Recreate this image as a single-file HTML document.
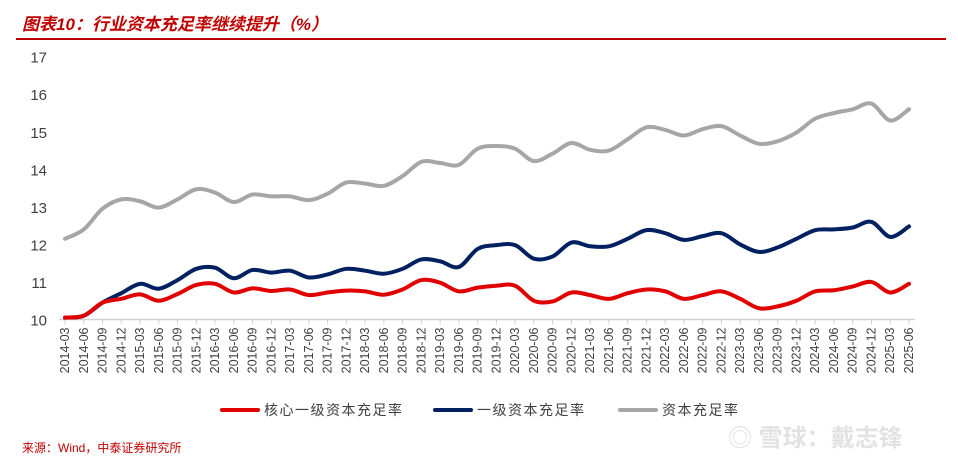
<!DOCTYPE html>
<html><head><meta charset="utf-8">
<style>
body{margin:0;background:#fff;width:958px;height:462px;overflow:hidden;font-family:"Liberation Sans","Noto Sans CJK SC",sans-serif;}
#title{position:absolute;left:22px;top:10px;font-size:17px;font-weight:bold;font-style:italic;color:#c00000;}
#rule{position:absolute;left:16px;top:38px;width:930px;height:2px;background:#c00000;}
#src{position:absolute;left:22px;top:439px;font-size:12px;color:#c00000;}
#wm{position:absolute;left:728px;top:418px;font-size:24px;color:#e2e2e2;font-weight:bold;}
</style></head><body>
<div id="title">图表10：行业资本充足率继续提升（%）</div>
<div id="rule"></div>
<svg id="chart" width="958" height="462" style="position:absolute;left:0;top:0"></svg>
<div id="src">来源：Wind，中泰证券研究所</div>
<div id="wm">◎ 雪球：戴志锋</div>
<script>
const categories=["2014-03","2014-06","2014-09","2014-12","2015-03","2015-06","2015-09","2015-12","2016-03","2016-06","2016-09","2016-12","2017-03","2017-06","2017-09","2017-12","2018-03","2018-06","2018-09","2018-12","2019-03","2019-06","2019-09","2019-12","2020-03","2020-06","2020-09","2020-12","2021-03","2021-06","2021-09","2021-12","2022-03","2022-06","2022-09","2022-12","2023-03","2023-06","2023-09","2023-12","2024-03","2024-06","2024-09","2024-12","2025-03","2025-06"];
const core1=[10.05,10.1,10.45,10.55,10.67,10.5,10.68,10.92,10.95,10.72,10.83,10.76,10.8,10.65,10.72,10.77,10.75,10.66,10.8,11.05,10.98,10.75,10.85,10.9,10.9,10.5,10.48,10.72,10.65,10.55,10.7,10.8,10.75,10.55,10.65,10.75,10.55,10.3,10.35,10.5,10.75,10.78,10.88,11.0,10.72,10.95];
const tier1=[10.05,10.1,10.45,10.7,10.95,10.82,11.05,11.35,11.38,11.1,11.32,11.25,11.3,11.12,11.2,11.35,11.3,11.22,11.35,11.6,11.55,11.4,11.88,11.98,11.98,11.62,11.68,12.05,11.95,11.95,12.15,12.38,12.3,12.12,12.22,12.3,12.0,11.8,11.92,12.15,12.38,12.4,12.45,12.6,12.2,12.48];
const total=[12.15,12.4,12.95,13.2,13.15,12.98,13.2,13.47,13.38,13.13,13.33,13.28,13.28,13.18,13.35,13.65,13.62,13.56,13.82,14.2,14.17,14.12,14.55,14.62,14.55,14.22,14.42,14.7,14.52,14.5,14.8,15.12,15.05,14.9,15.07,15.15,14.9,14.68,14.75,14.98,15.35,15.5,15.6,15.75,15.3,15.6];
const yTicks=[10,11,12,13,14,15,16,17];
const seriesNames=["核心一级资本充足率","一级资本充足率","资本充足率"];
const NS="http://www.w3.org/2000/svg";
const svg=document.getElementById('chart');
const x0=65,x1=909,yB=319.5,yT=56.7;
const xs=i=>x0+(x1-x0)*i/(categories.length-1);
const ys=v=>yB-(v-10)/(17-10)*(yB-yT);
function mk(t,a){const e=document.createElementNS(NS,t);for(const k in a)e.setAttribute(k,a[k]);svg.appendChild(e);return e;}
yTicks.forEach(v=>{const t=mk('text',{x:47,y:ys(v)+6,'text-anchor':'end','font-size':15,fill:'#404040','font-family':'Liberation Sans'});t.textContent=v;

});
const ax=mk('line',{x1:x0-6,x2:x1+6,y1:yB,y2:yB,stroke:'#d0d0d0','stroke-width':1.5});


categories.forEach((c,i)=>{const x=xs(i);
const tk=mk('line',{x1:x,x2:x,y1:yB,y2:yB+5,stroke:'#d0d0d0'});


const t=mk('text',{x:0,y:0,'font-size':12.5,fill:'#404040','text-anchor':'end','font-family':'Liberation Sans',transform:`translate(${x+4},${yB+8}) rotate(-90)`});t.textContent=c;

});
function path(arr){const p=arr.map((v,i)=>[xs(i),ys(v)]);let d=`M${p[0][0]},${p[0][1]}`;
for(let i=0;i<p.length-1;i++){const a=p[Math.max(0,i-1)],b=p[i],c=p[i+1],e=p[Math.min(p.length-1,i+2)];
const c1=[b[0]+(c[0]-a[0])/6,b[1]+(c[1]-a[1])/6],c2=[c[0]-(e[0]-b[0])/6,c[1]-(e[1]-b[1])/6];
d+=` C${c1[0]},${c1[1]} ${c2[0]},${c2[1]} ${c[0]},${c[1]}`;}return d;}
const cols=['#e00000','#002060','#a6a6a6'];
[[total,2,'line-total-car'],[tier1,1,'line-tier1-car'],[core1,0,'line-core-tier1-car']].forEach(([arr,k,n])=>{
const l=mk('path',{d:path(arr),fill:'none',stroke:cols[k],'stroke-width':4,'stroke-linecap':'round'});

});
const lx=[222,435,620];
seriesNames.forEach((s,k)=>{
const l=mk('line',{x1:lx[k],x2:lx[k]+36,y1:410,y2:410,stroke:cols[k],'stroke-width':4,'stroke-linecap':'round'});


const t=mk('text',{x:lx[k]+42,y:415,'font-size':14,fill:'#404040','font-family':'Liberation Sans, Noto Sans CJK SC','letter-spacing':1.5});t.textContent=s;

});
</script>
</body></html>
